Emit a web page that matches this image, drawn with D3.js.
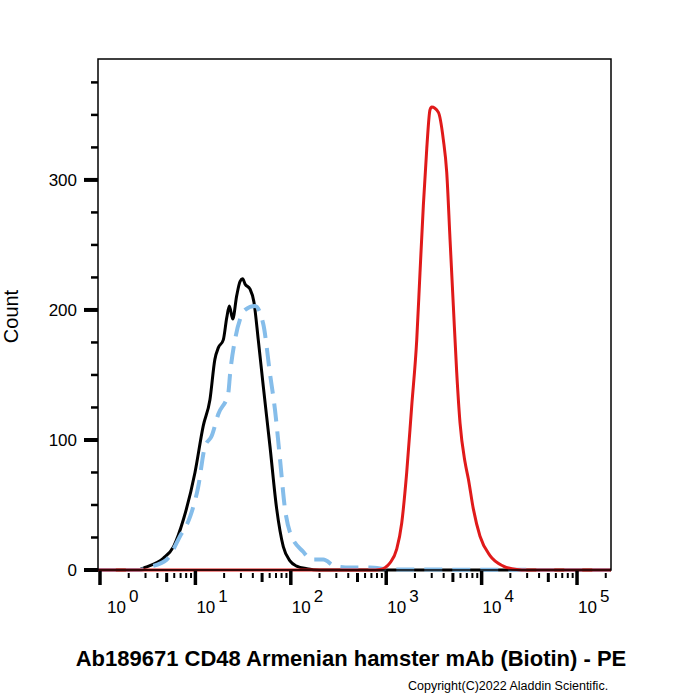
<!DOCTYPE html>
<html>
<head>
<meta charset="utf-8">
<script src="https://cdn.jsdelivr.net/npm/d3@7"></script>
<style>
    body { margin: 0; background: #fff; }
    svg { display: block; font-family: 'Liberation Sans', Arial, sans-serif; }
</style>
</head>
<body>
<svg id="chart"></svg>
<script>
// Histogram series: [fluorescence intensity, count]
const blackSeries = [
    [0.95, 0], [2.5, 0], [2.96, 2], [4.6, 9], [5.9, 18], [7.5, 39], [9.9, 75], [12.1, 111],
    [14.2, 131], [16.0, 162], [17.4, 171], [19.6, 177], [21.3, 194], [22.7, 203], [24.6, 193],
    [27.1, 211], [29.4, 222], [31.3, 224], [33.1, 220], [37.4, 216], [41.1, 206], [45.6, 177],
    [51.5, 141], [60.5, 95], [71.1, 47], [83.4, 18], [98, 7], [115, 3], [147, 1], [200, 0], [2.27e5, 0],
];
const blueSeries = [
    [0.95, 0], [2.6, 0], [3.2, 2], [5.0, 8], [6.9, 26], [8.8, 41], [10.7, 64], [12.6, 95],
    [14.8, 103], [17.4, 120], [22.1, 136], [23.1, 151], [26.0, 177], [29.4, 193], [33.1, 200],
    [42.2, 203], [51.5, 189], [60.5, 151], [68.3, 123], [77.1, 85], [86.9, 47], [98, 29],
    [135, 14], [166, 8], [219, 8], [290, 3], [418, 2], [676, 2], [1100, 0.5], [2.27e5, 0],
];
const redSeries = [
    [0.95, 0], [700, 0], [861, 0.4], [1096, 5.5], [1288, 16], [1453, 36], [1640, 75], [1850, 126],
    [2089, 177], [2261, 229], [2449, 280], [2660, 324], [2878, 354], [3000, 356], [3518, 352],
    [3968, 331], [4306, 306], [4667, 254], [5054, 203], [5481, 152], [5939, 113], [6699, 83],
    [7261, 70], [8186, 47], [9616, 26], [12240, 11], [16870, 3], [23340, 0.4], [30000, 0], [2.27e5, 0],
];

const xDecades = [0, 1, 2, 3, 4, 5];
const yMajorTicks = [0, 100, 200, 300];
const yMinorStep = 25;

const xTitle = 'Ab189671 CD48 Armenian hamster mAb (Biotin) - PE';
const yTitle = 'Count';
const copyright = 'Copyright(C)2022 Aladdin Scientific.';

// Layout
const width = 700;
const height = 700;
const plot = { left: 98, right: 611, top: 59, bottom: 570 };
const font = "'Liberation Sans', Arial, sans-serif";

const svg = d3.select('#chart').attr('width', width).attr('height', height);

const x = d3.scaleLog().domain([0.953, 2.27e5]).range([plot.left, plot.right]);
const y = d3.scaleLinear().domain([0, 393]).range([plot.bottom, plot.top]);

// Curves
const lineGen = d3
    .line()
    .x(d => x(d[0]))
    .y(d => y(d[1]))
    .curve(d3.curveMonotoneX);

const curves = svg.append('g').attr('class', 'curves');

curves.append('path')
    .datum(blackSeries)
    .attr('d', lineGen)
    .attr('fill', 'none')
    .attr('stroke', '#000')
    .attr('stroke-width', 3)
    .attr('stroke-linejoin', 'round');

curves.append('path')
    .datum(blueSeries)
    .attr('d', lineGen)
    .attr('fill', 'none')
    .attr('stroke', '#85bdea')
    .attr('stroke-width', 4)
    .attr('stroke-dasharray', '18,10');

curves.append('path')
    .datum(redSeries)
    .attr('d', lineGen)
    .attr('fill', 'none')
    .attr('stroke', '#e01a1a')
    .attr('stroke-width', 3)
    .attr('stroke-linejoin', 'round');

// Frame
svg.append('rect')
    .attr('x', plot.left)
    .attr('y', plot.top)
    .attr('width', plot.right - plot.left)
    .attr('height', plot.bottom - plot.top)
    .attr('fill', 'none')
    .attr('stroke', '#000')
    .attr('stroke-width', 1.5);

// X ticks: decades (major), 5x (medium), others (minor)
const xTickValues = [];
xDecades.forEach(e => {
    for (let m = 1; m <= 9; m++) {
        const v = m * Math.pow(10, e);
        if (x(v) <= plot.right) xTickValues.push({ v, m });
    }
});

svg.append('g')
    .selectAll('line')
    .data(xTickValues)
    .enter()
    .append('line')
    .attr('x1', d => x(d.v))
    .attr('x2', d => x(d.v))
    .attr('y1', d => (d.m === 1 ? plot.bottom + 1 : plot.bottom + 3))
    .attr('y2', d => (d.m === 1 ? plot.bottom + 15 : d.m === 5 ? plot.bottom + 12 : plot.bottom + 8))
    .attr('stroke', '#000')
    .attr('stroke-width', d => (d.m === 1 ? 3.5 : d.m === 5 ? 3 : 2));

// X tick labels: 10^n
const xLabels = svg.append('g')
    .selectAll('text')
    .data(xDecades)
    .enter()
    .append('text')
    .attr('x', d => Math.max(x(Math.pow(10, d)) + 1, 107))
    .attr('y', 613)
    .attr('font-size', 17)
    .attr('fill', '#000');
xLabels.append('tspan').text('10');
xLabels.append('tspan')
    .attr('dx', 3)
    .attr('dy', -11)
    .text(d => d);

// Y ticks
const yMinor = d3.range(0, y.domain()[1], yMinorStep).filter(v => !yMajorTicks.includes(v));

svg.append('g')
    .selectAll('line')
    .data(yMinor)
    .enter()
    .append('line')
    .attr('x1', plot.left - 7)
    .attr('x2', plot.left)
    .attr('y1', d => y(d))
    .attr('y2', d => y(d))
    .attr('stroke', '#000')
    .attr('stroke-width', 2.5);

svg.append('g')
    .selectAll('line')
    .data(yMajorTicks)
    .enter()
    .append('line')
    .attr('x1', plot.left - 14)
    .attr('x2', plot.left)
    .attr('y1', d => y(d))
    .attr('y2', d => y(d))
    .attr('stroke', '#000')
    .attr('stroke-width', 4);

svg.append('g')
    .selectAll('text')
    .data(yMajorTicks)
    .enter()
    .append('text')
    .attr('x', 77)
    .attr('y', d => y(d))
    .attr('dy', '0.35em')
    .attr('text-anchor', 'end')
    .attr('font-size', 17)
    .text(d => d);

// Titles
svg.append('text')
    .attr('transform', `translate(18, ${(plot.top + plot.bottom) / 2 + 2}) rotate(-90)`)
    .attr('text-anchor', 'middle')
    .attr('font-size', 20)
    .text(yTitle);

svg.append('text')
    .attr('x', 351)
    .attr('y', 666)
    .attr('text-anchor', 'middle')
    .attr('font-size', 22)
    .attr('font-weight', 'bold')
    .text(xTitle);

svg.append('text')
    .attr('x', 408)
    .attr('y', 690)
    .attr('font-size', 12.5)
    .text(copyright);
</script>
</body>
</html>
